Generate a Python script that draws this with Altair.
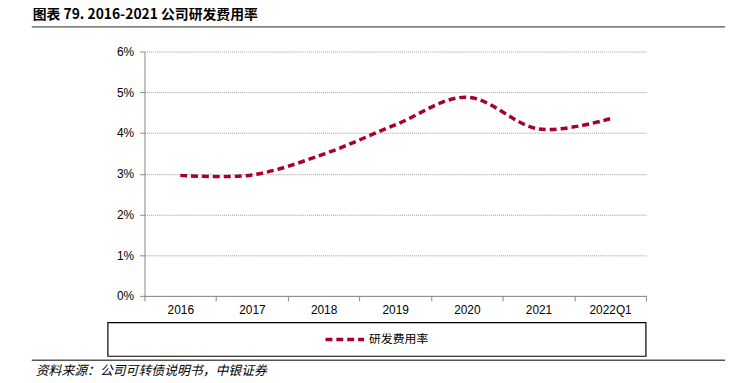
import altair as alt
import pandas as pd

categories = ["2016", "2017", "2018", "2019", "2020", "2021", "2022Q1"]
rd_ratio = [0.0296, 0.0297, 0.0348, 0.0420, 0.0488, 0.0410, 0.0435]
y_ticks = [0, 0.01, 0.02, 0.03, 0.04, 0.05, 0.06]
series_name = "研发费用率"
title_text = "图表 79. 2016-2021 公司研发费用率"
source_text = "资料来源：公司可转债说明书，中银证券"

df = pd.DataFrame({"year": categories, "value": rd_ratio})
one = pd.DataFrame({"a": [0]})

RED = "#A8002B"
FONT = "Liberation Sans"
CJK = "Noto Sans CJK SC"

W, H = 507, 247

line = alt.Chart(df).mark_line(
    color=RED, strokeWidth=3.5, strokeDash=[7, 4], interpolate="cardinal"
).encode(
    x=alt.X("year:N", sort=categories,
            scale=alt.Scale(type="band", paddingInner=0, paddingOuter=0),
            axis=alt.Axis(title=None, labelAngle=0, tickBand="extent", grid=False,
                          domainColor="#888888", tickColor="#888888", tickSize=5,
                          labelFont=FONT, labelFontSize=12, labelColor="#000000",
                          labelPadding=4)),
    y=alt.Y("value:Q",
            scale=alt.Scale(domain=[0, 0.06], nice=False),
            axis=alt.Axis(title=None, values=y_ticks, format=".0%",
                          grid=True, gridColor="#999999", gridDash=[1, 1],
                          domainColor="#888888", tickColor="#888888", tickSize=5,
                          labelFont=FONT, labelFontSize=12, labelColor="#000000",
                          labelPadding=6)),
)

title = alt.Chart(one).mark_text(
    text=title_text, font=CJK, fontSize=14, fontWeight="bold", align="left",
    baseline="middle", color="#000000"
).encode(x=alt.value(33 - 146), y=alt.value(13 - 50))

top_rule = alt.Chart(one).mark_rule(color="#555555", strokeWidth=1.5).encode(
    x=alt.value(32 - 146), x2=alt.value(733 - 146), y=alt.value(25 - 50))

bottom_rule = alt.Chart(one).mark_rule(color="#555555", strokeWidth=1.5).encode(
    x=alt.value(32 - 146), x2=alt.value(733 - 146), y=alt.value(362 - 50))

legend_box = alt.Chart(one).mark_rect(
    fill="white", fillOpacity=0, stroke="#000000", strokeWidth=1.2
).encode(x=alt.value(109 - 146), x2=alt.value(653 - 146),
         y=alt.value(324 - 50), y2=alt.value(358 - 50))

legend_line = alt.Chart(one).mark_rule(
    color=RED, strokeWidth=3.5, strokeDash=[7, 4]
).encode(x=alt.value(329 - 146), x2=alt.value(368 - 146), y=alt.value(341 - 50))

legend_text = alt.Chart(one).mark_text(
    text=series_name, font=CJK, fontSize=12, align="left", baseline="middle",
    color="#000000"
).encode(x=alt.value(373 - 146), y=alt.value(341 - 50))

source = alt.Chart(one).mark_text(
    text=source_text, font=CJK, fontSize=13, fontStyle="italic", align="left",
    baseline="middle", color="#000000"
).encode(x=alt.value(36 - 146), y=alt.value(373 - 50))

chart = alt.layer(
    line, title, top_rule, bottom_rule, legend_box, legend_line, legend_text, source
).properties(
    width=W, height=H,
    autosize=alt.AutoSizeParams(type="none"),
    padding={"left": 138, "top": 42, "right": 85, "bottom": 86},
).configure_view(stroke=None)

chart.save("out.html", embed_options={"renderer": "svg", "actions": False})
